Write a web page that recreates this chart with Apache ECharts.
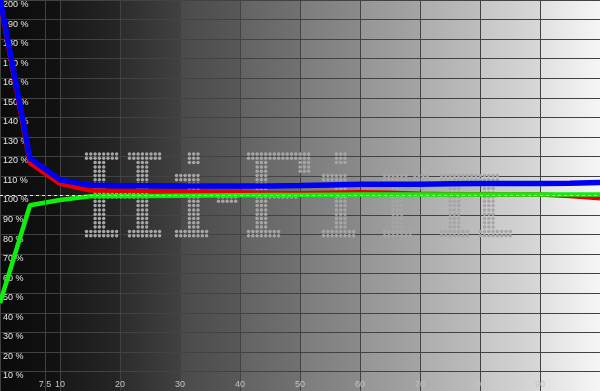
<!DOCTYPE html>
<html>
<head>
<meta charset="utf-8">
<script src="https://cdn.jsdelivr.net/npm/echarts@6/dist/echarts.min.js"></script>
<style>
html,body{margin:0;padding:0;background:#000;}
#c{width:600px;height:391px;}
</style>
</head>
<body>
<div id="c"></div>
<script>
// ---- data ----
const stimulus = [0, 5, 10, 15, 20, 25, 30, 35, 40, 45, 50, 55, 60, 65, 70, 75, 80, 85, 90, 95, 100];
const blueValues  = [201, 119, 108, 105.2, 105, 105, 104.9, 104.9, 104.9, 104.9, 105.1, 105.4, 105.7, 105.7, 105.8, 106, 106.1, 106.1, 106.1, 106.3, 106.7];
const redValues   = [199, 116.5, 106, 102.5, 102.4, 102.3, 102.0, 101.7, 101.5, 101.3, 101.1, 101.4, 101.6, 101.4, 100.9, 100.7, 100.6, 100.5, 100.5, 99.7, 98.6];
const greenValues = [45, 95, 97.7, 99.6, 99.8, 99.8, 99.9, 100, 100.1, 100.2, 100.3, 100.4, 100.5, 100.5, 100.5, 100.5, 100.5, 100.5, 100.5, 100.5, 100.5];
const xTickLabels = [7.5, 10, 20, 30, 40, 50, 60, 70, 80, 90];
const extraGridX = [7.5];
const referenceLevel = 100;

// ---- styling ----
const bandColors = [
  ['#0b0b0b', '#121212'],
  ['#181818', '#262626'],
  ['#2c2c2c', '#414141'],
  ['#4a4a4a', '#585858'],
  ['#636363', '#717171'],
  ['#7c7c7c', '#8a8a8a'],
  ['#959595', '#a4a4a4'],
  ['#adadad', '#bdbdbd'],
  ['#c6c6c6', '#d7d7d7'],
  ['#e0e0e0', '#f6f6f6']
];
const stops = [];
bandColors.forEach((b, i) => {
  stops.push({offset: i / 10, color: b[0]});
  stops.push({offset: (i + 1) / 10 - 0.0001, color: b[1]});
});
const gridColor = '#424242';
const pair = arr => stimulus.map((x, i) => [x, arr[i]]);

// ---- dot-matrix watermark (decoration) ----
function rows(spec) {
  const out = [];
  spec.forEach(([n, p]) => { for (let k = 0; k < n; k++) out.push(p); });
  return out;
}
const glyphI = rows([[3, '...###..'], [2, '........'], [2, '######..'], [11, '...###..'], [2, '########']]);
const watermarkGlyphs = [
  {x: 85, rows: rows([[2, '########..########'], [7, '..###.......###...'], [2, '..#############...'], [7, '..###.......###...'], [2, '########..########']])},
  {x: 175, rows: glyphI},
  {x: 217, rows: rows([[9, '.....'], [3, '#####']])},
  {x: 247, rows: rows([[2, '###############'], [3, '..###.......###'], [4, '..###..........'], [2, '..##########...'], [7, '..###..........'], [2, '########.......']])},
  {x: 322, rows: glyphI},
  {x: 383, rows: rows([[5, '...........'], [2, '######.####'], [2, '..###..###.'], [9, '..###......'], [2, '#######....']])},
  {x: 440, rows: rows([[5, '.................'], [2, '##############...'], [11, '..###.....###....'], [2, '#######..########']])}
];
function buildWatermark() {
  const out = document.createElement('canvas'); out.width = 600; out.height = 391;
  const o = out.getContext('2d');
  o.fillStyle = '#a6a6a6';
  const p = 4.3, y0 = 154;
  watermarkGlyphs.forEach(g => {
    g.rows.forEach((r, ri) => {
      for (let ci = 0; ci < r.length; ci++) {
        if (r[ci] === '#') {
          o.beginPath(); o.arc(g.x + 1.5 + ci * p, y0 + ri * p, 1.75, 0, Math.PI * 2); o.fill();
        }
      }
    });
  });
  return out;
}

const chart = echarts.init(document.getElementById('c'), null, {renderer: 'canvas'});
const lineSeries = (name, data, color, width, z) => ({
  name, type: 'line', data: pair(data), showSymbol: false, symbol: 'none',
  lineStyle: {color, width}, itemStyle: {color}, z, silent: true
});

chart.setOption({
  animation: false,
  grid: {
    left: 0, right: 0, top: 0, bottom: 0, show: true, borderWidth: 0,
    backgroundColor: new echarts.graphic.LinearGradient(0, 0, 1, 0, stops)
  },
  xAxis: {
    type: 'value', min: 0, max: 100, interval: 10,
    axisLine: {show: false}, axisTick: {show: false},
    splitLine: {show: true, lineStyle: {color: gridColor, width: 1}},
    axisLabel: {
      inside: true, customValues: xTickLabels, margin: 2,
      color: '#c4c4c4', fontSize: 9, fontFamily: 'Liberation Sans',
      formatter: v => String(v)
    }
  },
  yAxis: {
    type: 'value', min: 0, max: 200, interval: 10,
    axisLine: {show: false}, axisTick: {show: false},
    splitLine: {show: true, lineStyle: {color: gridColor, width: 1}},
    axisLabel: {
      inside: true, margin: 3, color: '#e6e6e6', fontSize: 9,
      fontFamily: 'Liberation Sans', verticalAlign: 'top', align: 'left',
      formatter: v => (v === 0 ? '' : v + ' %')
    }
  },
  graphic: {
    elements: [{type: 'image', left: 0, top: 0, z: 1, silent: true,
      style: {image: buildWatermark(), width: 600, height: 391}}]
  },
  series: [
    {
      type: 'line', data: pair(greenValues), showSymbol: false, symbol: 'none',
      lineStyle: {opacity: 0, width: 0}, z: 1, silent: true,
      markLine: {
        silent: true, symbol: 'none', animation: false, label: {show: false},
        data: [
          ...extraGridX.map(x => ({xAxis: x, lineStyle: {color: gridColor, width: 1, type: 'solid'}})),
          {yAxis: referenceLevel, lineStyle: {color: '#e8e8e8', width: 1, type: [3, 3]}}
        ]
      }
    },
    lineSeries('R', redValues, '#e80000', 4.5, 3),
    lineSeries('G', greenValues, '#10ee10', 4.5, 4),
    lineSeries('B', blueValues, '#0000f0', 5.5, 5)
  ]
});
</script>
</body>
</html>
